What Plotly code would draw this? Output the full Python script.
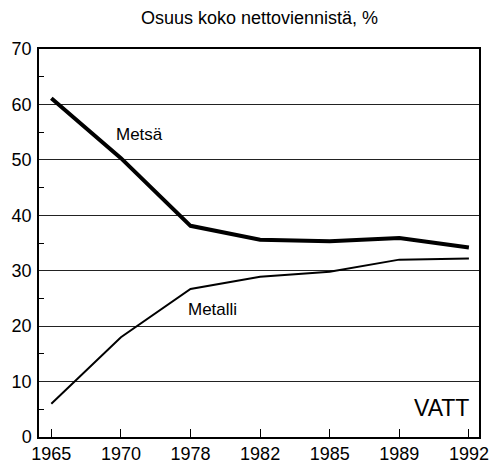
import plotly.graph_objects as go

years = ["1965", "1970", "1978", "1982", "1985", "1989", "1992"]
metsa = [61.1, 50.3, 38.1, 35.6, 35.3, 35.9, 34.2]
metalli = [6.0, 18.0, 26.7, 28.9, 29.8, 32.0, 32.2]

FONT2 = "Liberation Sans, Arial, sans-serif"

fig = go.Figure()
fig.add_trace(go.Scatter(x=years, y=metsa, mode="lines", line=dict(color="black", width=4), name="Metsä"))
fig.add_trace(go.Scatter(x=years, y=metalli, mode="lines", line=dict(color="black", width=2), name="Metalli"))

fig.add_annotation(x=1.27, y=54.5, xref="x", yref="y", text="Metsä", showarrow=False,
                   font=dict(family=FONT2, size=17, color="black"))
fig.add_annotation(x=2.32, y=23.0, xref="x", yref="y", text="Metalli", showarrow=False,
                   font=dict(family=FONT2, size=17, color="black"))
fig.add_annotation(x=5.6, y=5.2, xref="x", yref="y", text="VATT", showarrow=False,
                   font=dict(family=FONT2, size=23, color="black"))
fig.add_annotation(x=0.5, y=1.0, xref="paper", yref="paper", yshift=31, text="Osuus koko nettoviennistä, %",
                   showarrow=False, yanchor="middle",
                   font=dict(family=FONT2, size=18, color="black"))

fig.update_layout(
    width=497, height=466,
    margin=dict(l=39, r=18, t=49, b=29, autoexpand=False),
    paper_bgcolor="white", plot_bgcolor="white",
    showlegend=False,
    font=dict(family=FONT2, size=18, color="black"),
)
fig.update_xaxes(
    type="category", range=[-0.177, 6.145], automargin=False,
    showline=True, linecolor="black", linewidth=1.5, mirror=True,
    showgrid=False, ticks="inside", ticklen=8, tickcolor="black", tickwidth=1,
    tickfont=dict(family=FONT2, size=18, color="black"),
)
fig.update_yaxes(
    range=[0, 70], dtick=10, automargin=False,
    showline=True, linecolor="black", linewidth=1.5, mirror=True,
    showgrid=True, gridcolor="#222", gridwidth=1,
    ticks="", ticklabelstandoff=2, tickfont=dict(family=FONT2, size=18, color="black"),
    minor=dict(dtick=5, ticks="inside", ticklen=5, tickcolor="black", showgrid=False),
    zeroline=False,
)

fig.write_html("out.html", config={"displayModeBar": False},
               post_script="document.body.style.margin='0';document.body.style.overflow='hidden';")
